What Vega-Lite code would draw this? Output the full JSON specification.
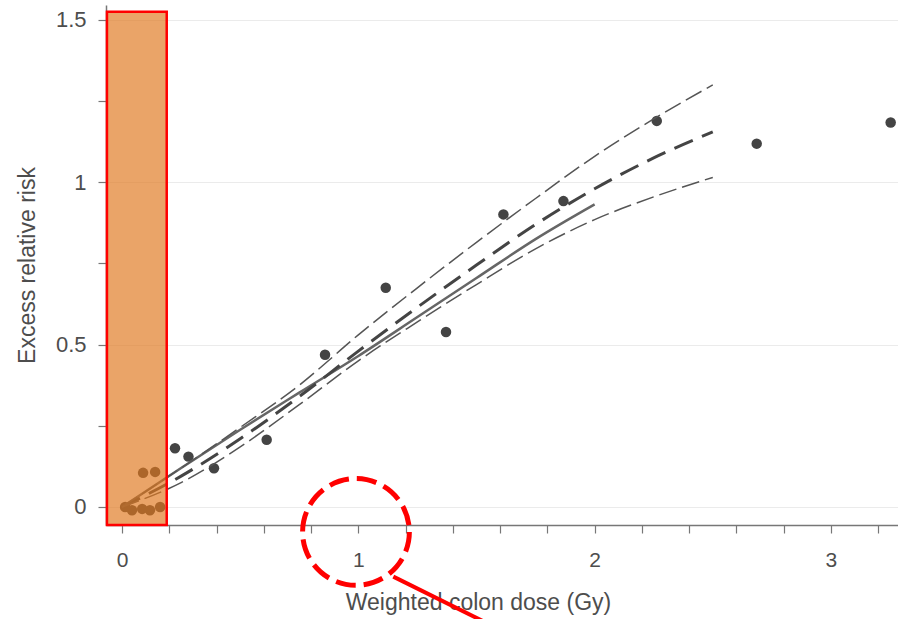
{
  "$schema": "https://vega.github.io/schema/vega-lite/v6.json",
  "width": 792,
  "height": 520,
  "padding": {"left": 106, "top": 5, "right": 0, "bottom": 94},
  "autosize": {"type": "none"},
  "background": "white",
  "config": {
    "view": {"stroke": null},
    "font": "Liberation Sans"
  },
  "datasets": {
    "pts": [
      {"dose": 0.013, "err": 0.0}, {"dose": 0.042, "err": -0.01}, {"dose": 0.085, "err": -0.006},
      {"dose": 0.118, "err": -0.01}, {"dose": 0.161, "err": 0.0}, {"dose": 0.089, "err": 0.105},
      {"dose": 0.14, "err": 0.108}, {"dose": 0.224, "err": 0.181}, {"dose": 0.281, "err": 0.155},
      {"dose": 0.389, "err": 0.119}, {"dose": 0.612, "err": 0.207}, {"dose": 0.859, "err": 0.469},
      {"dose": 1.116, "err": 0.675}, {"dose": 1.371, "err": 0.539}, {"dose": 1.614, "err": 0.901},
      {"dose": 1.868, "err": 0.942}, {"dose": 2.263, "err": 1.189}, {"dose": 2.686, "err": 1.119},
      {"dose": 3.253, "err": 1.184}
    ],
    "curves": [
      {"s": "solid", "dose": 0, "err": 0}, {"s": "solid", "dose": 0.25, "err": 0.12},
      {"s": "solid", "dose": 0.5, "err": 0.238}, {"s": "solid", "dose": 0.75, "err": 0.352},
      {"s": "solid", "dose": 1.0, "err": 0.465}, {"s": "solid", "dose": 1.25, "err": 0.585},
      {"s": "solid", "dose": 1.5, "err": 0.705}, {"s": "solid", "dose": 1.75, "err": 0.825},
      {"s": "solid", "dose": 2.0, "err": 0.932},
      {"s": "mid", "dose": 0, "err": 0}, {"s": "mid", "dose": 0.25, "err": 0.095},
      {"s": "mid", "dose": 0.5, "err": 0.21}, {"s": "mid", "dose": 0.75, "err": 0.34},
      {"s": "mid", "dose": 1.0, "err": 0.48}, {"s": "mid", "dose": 1.25, "err": 0.615},
      {"s": "mid", "dose": 1.5, "err": 0.745}, {"s": "mid", "dose": 1.75, "err": 0.87},
      {"s": "mid", "dose": 2.0, "err": 0.98}, {"s": "mid", "dose": 2.25, "err": 1.075},
      {"s": "mid", "dose": 2.5, "err": 1.155},
      {"s": "upper", "dose": 0, "err": 0}, {"s": "upper", "dose": 0.25, "err": 0.12},
      {"s": "upper", "dose": 0.5, "err": 0.245}, {"s": "upper", "dose": 0.75, "err": 0.375},
      {"s": "upper", "dose": 1.0, "err": 0.53}, {"s": "upper", "dose": 1.25, "err": 0.675},
      {"s": "upper", "dose": 1.5, "err": 0.815}, {"s": "upper", "dose": 1.75, "err": 0.95},
      {"s": "upper", "dose": 2.0, "err": 1.08}, {"s": "upper", "dose": 2.25, "err": 1.195},
      {"s": "upper", "dose": 2.5, "err": 1.3},
      {"s": "lower", "dose": 0, "err": 0}, {"s": "lower", "dose": 0.25, "err": 0.075},
      {"s": "lower", "dose": 0.5, "err": 0.185}, {"s": "lower", "dose": 0.75, "err": 0.315},
      {"s": "lower", "dose": 1.0, "err": 0.45}, {"s": "lower", "dose": 1.25, "err": 0.57},
      {"s": "lower", "dose": 1.5, "err": 0.685}, {"s": "lower", "dose": 1.75, "err": 0.795},
      {"s": "lower", "dose": 2.0, "err": 0.885}, {"s": "lower", "dose": 2.25, "err": 0.955},
      {"s": "lower", "dose": 2.5, "err": 1.015}
    ],
    "box": [{"x1": -0.064, "x2": 0.189, "y1": -0.0556, "y2": 1.525}],
    "circ": [{"dose": 0.99, "err": -0.077}],
    "pointer": [{"x1": 1.148, "y1": -0.2147, "x2": 1.62, "y2": -0.385}]
  },
  "layer": [
    {
      "data": {"name": "pts"},
      "mark": {"type": "circle", "color": "#444444", "size": 110, "opacity": 1},
      "encoding": {
        "x": {
          "field": "dose", "type": "quantitative",
          "scale": {"domain": [-0.068, 3.284], "nice": false, "zero": false},
          "axis": {
            "title": "Weighted colon dose (Gy)",
            "values": [0, 0.2, 0.4, 0.6, 0.8, 1, 1.2, 1.4, 1.6, 1.8, 2, 2.2, 2.4, 2.6, 2.8, 3, 3.2],
            "labelExpr": "datum.value % 1 === 0 ? format(datum.value, 'd') : ''",
            "grid": false,
            "domainColor": "#777777", "domainWidth": 1.5,
            "tickColor": "#777777", "tickWidth": 1.2, "tickSize": 8,
            "labelFontSize": 21, "labelColor": "#4d4d4d", "labelPadding": 16,
            "labelFont": "Liberation Sans",
            "titleFontSize": 23, "titleFontWeight": "normal", "titleColor": "#4d4d4d",
            "titleFont": "Liberation Sans", "titlePadding": 21, "titleX": 372
          }
        },
        "y": {
          "field": "err", "type": "quantitative",
          "scale": {"domain": [-0.0556, 1.546], "nice": false, "zero": false},
          "axis": {
            "title": "Excess relative risk",
            "values": [0, 0.25, 0.5, 0.75, 1, 1.25, 1.5],
            "labelExpr": "datum.value % 0.5 === 0 ? format(datum.value, '~g') : ''",
            "grid": true,
            "gridColor": "#ebebeb", "gridWidth": 1.2,
            "gridOpacity": {"condition": {"test": "datum.value % 0.5 === 0", "value": 1}, "value": 0},
            "domainColor": "#777777", "domainWidth": 1.5,
            "tickColor": "#777777", "tickWidth": 1.2, "tickSize": 8,
            "labelFontSize": 22, "labelColor": "#4d4d4d", "labelPadding": 12,
            "labelFont": "Liberation Sans",
            "titleFontSize": 23, "titleFontWeight": "normal", "titleColor": "#4d4d4d",
            "titleFont": "Liberation Sans", "titlePadding": 16
          }
        }
      }
    },
    {
      "data": {"name": "curves"},
      "transform": [{"filter": "datum.s === 'solid'"}],
      "mark": {"type": "line", "color": "#666666", "strokeWidth": 2.5, "interpolate": "monotone"},
      "encoding": {"x": {"field": "dose", "type": "quantitative"}, "y": {"field": "err", "type": "quantitative"}}
    },
    {
      "data": {"name": "curves"},
      "transform": [{"filter": "datum.s === 'mid'"}],
      "mark": {"type": "line", "color": "#444444", "strokeWidth": 3, "strokeDash": [20, 10], "interpolate": "monotone"},
      "encoding": {"x": {"field": "dose", "type": "quantitative"}, "y": {"field": "err", "type": "quantitative"}}
    },
    {
      "data": {"name": "curves"},
      "transform": [{"filter": "datum.s === 'upper' || datum.s === 'lower'"}],
      "mark": {"type": "line", "color": "#555555", "strokeWidth": 1.5, "strokeDash": [18, 6], "interpolate": "monotone"},
      "encoding": {"x": {"field": "dose", "type": "quantitative"}, "y": {"field": "err", "type": "quantitative"}, "detail": {"field": "s"}}
    },
    {
      "data": {"name": "box"},
      "mark": {"type": "rect", "fill": "#E0781E", "fillOpacity": 0.67, "stroke": "#FF0000", "strokeWidth": 2.5, "strokeOpacity": 1},
      "encoding": {
        "x": {"field": "x1", "type": "quantitative"}, "x2": {"field": "x2"},
        "y": {"field": "y1", "type": "quantitative"}, "y2": {"field": "y2"}
      }
    },
    {
      "data": {"name": "circ"},
      "mark": {"type": "point", "shape": "circle", "filled": false, "size": 11400, "stroke": "#FF0000", "strokeWidth": 5, "strokeDash": [20, 8], "opacity": 1},
      "encoding": {"x": {"field": "dose", "type": "quantitative"}, "y": {"field": "err", "type": "quantitative"}}
    },
    {
      "data": {"name": "pointer"},
      "mark": {"type": "rule", "color": "#FF0000", "strokeWidth": 4},
      "encoding": {
        "x": {"field": "x1", "type": "quantitative"}, "x2": {"field": "x2"},
        "y": {"field": "y1", "type": "quantitative"}, "y2": {"field": "y2"}
      }
    }
  ]
}
